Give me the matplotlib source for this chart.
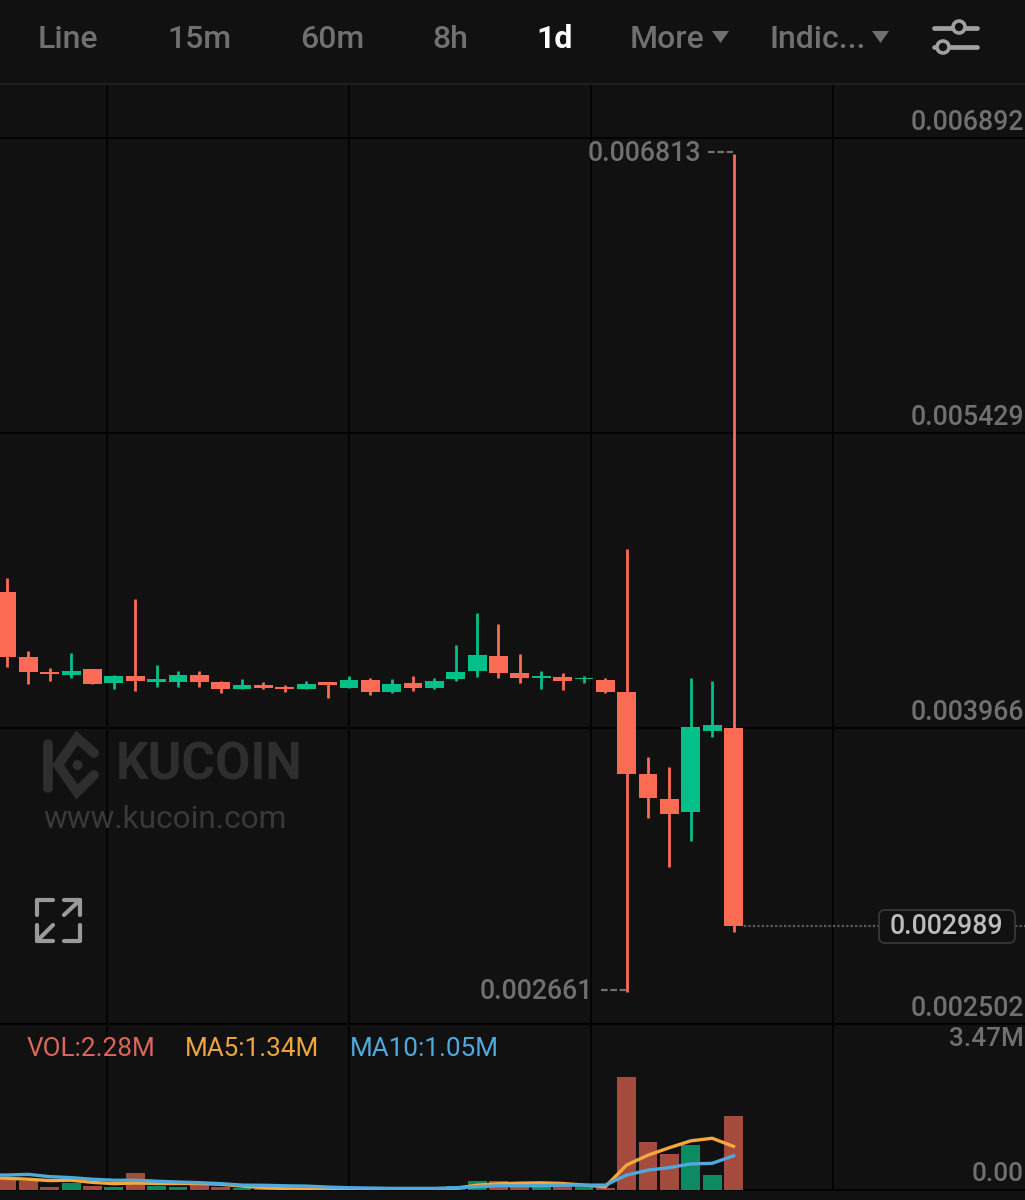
import matplotlib
matplotlib.use("Agg")
import matplotlib.pyplot as plt
from matplotlib.patches import FancyBboxPatch, Polygon, Circle

plt.rcParams["font.family"] = ["Roboto", "DejaVu Sans"]

# prices in millionths
opens = [4644, 4318, 4248, 4233, 4263, 4189, 4228, 4194, 4194, 4233, 4194, 4164,
         4179, 4174, 4164, 4194, 4169, 4204, 4149, 4189, 4169, 4209, 4253, 4327,
         4243, 4214, 4223, 4209, 4204, 4149, 3743, 3619, 3550, 3956, 3966]
closes = [4322, 4248, 4238, 4253, 4184, 4228, 4199, 4209, 4233, 4194, 4164, 4179,
          4169, 4164, 4184, 4179, 4204, 4149, 4184, 4169, 4199, 4248, 4332, 4243,
          4218, 4228, 4199, 4218, 4149, 3743, 3624, 3540, 3971, 3981, 2989]
highs = [4714, 4352, 4268, 4342, 4263, 4233, 4610, 4283, 4253, 4253, 4199, 4209,
         4194, 4179, 4199, 4194, 4228, 4214, 4209, 4228, 4214, 4382, 4540, 4486,
         4337, 4253, 4243, 4228, 4214, 4857, 3827, 3773, 4218, 4199, 6813]
lows = [4273, 4184, 4199, 4214, 4184, 4164, 4154, 4174, 4174, 4174, 4144, 4164,
        4164, 4149, 4164, 4119, 4169, 4134, 4144, 4154, 4164, 4199, 4223, 4214,
        4189, 4164, 4159, 4189, 4144, 2661, 3525, 3278, 3407, 3926, 2956]

# volume in millions
volumes = [0.31, 0.28, 0.10, 0.225, 0.12, 0.08, 0.51, 0.13, 0.09, 0.175, 0.09, 0.07,
           0.03, 0.03, 0.03, 0.03, 0.04, 0.03, 0.03, 0.03, 0.05, 0.13, 0.29, 0.29,
           0.22, 0.22, 0.20, 0.10, 0.07, 3.47, 1.47, 1.10, 1.37, 0.45, 2.28]
# first entry of each MA is the candle just off the left edge
ma5 = [0.37, 0.36, 0.33, 0.29, 0.30, 0.235, 0.195, 0.215, 0.20, 0.20, 0.20, 0.175, 0.12,
       0.07, 0.04, 0.03, 0.03, 0.03, 0.03, 0.03, 0.03, 0.03, 0.05, 0.15, 0.19,
       0.21, 0.22, 0.20, 0.15, 0.10, 0.77, 1.07, 1.30, 1.51, 1.59, 1.34]
ma10 = [0.46, 0.46, 0.48, 0.41, 0.38, 0.33, 0.30, 0.30, 0.27, 0.245, 0.225, 0.195, 0.15,
        0.145, 0.13, 0.12, 0.09, 0.07, 0.06, 0.05, 0.05, 0.05, 0.07, 0.10, 0.13,
        0.13, 0.13, 0.15, 0.15, 0.15, 0.46, 0.61, 0.69, 0.80, 0.82, 1.05]

price_ticks = [6892, 5429, 3966, 2502]
grid_x = [4.68, 16.0, 27.33, 38.65]
tabs = ["Line", "15m", "60m", "8h", "1d"]
tab_x = [68, 199, 332, 450, 555]

BG = "#111111"
RED = "#FC6B54"
GREEN = "#02C087"
GREY = "#707070"

fig = plt.figure(figsize=(10.25, 12), dpi=100, facecolor=BG)
ax = fig.add_axes([0, 176 / 1200, 1, 939 / 1200], facecolor=BG)
vol = fig.add_axes([0, 10 / 1200, 1, 166 / 1200], facecolor=BG, sharex=ax)

n = list(range(len(opens)))
colors = [GREEN if c >= o else RED for o, c in zip(opens, closes)]
bottoms = [min(o, c) for o, c in zip(opens, closes)]
heights = [abs(o - c) for o, c in zip(opens, closes)]

ax.vlines(n, lows, highs, colors=colors, linewidth=2, zorder=3)
ax.bar(n, heights, 0.88, bottom=bottoms, color=colors, linewidth=0, zorder=4)
ax.set_xlim(-0.328, 47.64)
ax.set_ylim(2502, 7154)
ax.set_yticks(price_ticks)
ax.set_xticks(grid_x)
ax.grid(True, color="black", linewidth=1.1)
ax.set_axisbelow(True)
ax.tick_params(length=0, labelleft=False, labelbottom=False)
for s in ax.spines.values():
    s.set_visible(False)

for p in price_ticks:
    ax.annotate(f"{p / 1e6:.6f}", xy=(1, p), xycoords=ax.get_yaxis_transform(), xytext=(-0.5, 11.4),
                textcoords="offset points", ha="right", va="center", color=GREY, fontsize=19.3,
                fontweight="medium", annotation_clip=False, zorder=6)

# high and low of the visible range
ax.annotate(f"{max(highs) / 1e6:.6f}", xy=(34, max(highs)), xytext=(-23.5, 0), textcoords="offset points",
            ha="right", va="center", color=GREY, fontsize=19.3, fontweight="medium")
ax.annotate(f"{min(lows) / 1e6:.6f}", xy=(29, min(lows)), xytext=(-24.5, 0.5), textcoords="offset points",
            ha="right", va="center", color=GREY, fontsize=19.3, fontweight="medium")

# last price
ax.plot([34.5, 47.64], [closes[-1], closes[-1]], color="#5A5A5A", linewidth=1.6, linestyle=(0, (1, 1)), zorder=2)

vol_colors = ["#0D8A62" if c == GREEN else "#A44B3D" for c in colors]
vol.bar(n, volumes, 0.88, color=vol_colors, linewidth=0, zorder=3)
vol.plot([-1] + n, ma5, color="#F5A83C", linewidth=2.4, zorder=4)
vol.plot([-1] + n, ma10, color="#4FA9DD", linewidth=2.4, zorder=5)
vol.set_ylim(0, 5.1)
vol.set_xticks(grid_x)
vol.grid(True, axis="x", color="black", linewidth=1.1)
vol.set_axisbelow(True)
vol.tick_params(length=0, labelleft=False, labelbottom=False)
for s in vol.spines.values():
    s.set_visible(False)
vol.spines["bottom"].set_visible(True)
vol.spines["bottom"].set_color("black")
vol.spines["bottom"].set_linewidth(1.1)
vol.spines["top"].set_visible(True)
vol.spines["top"].set_color("black")
vol.spines["top"].set_linewidth(1.1)

# screen furniture, in pixels
ui = fig.add_axes([0, 0, 1, 1], facecolor="none", zorder=10)
ui.set_xlim(0, 1025)
ui.set_ylim(1200, 0)
ui.axis("off")

ui.plot([0, 1025], [84, 84], color="#222222", linewidth=1.2)
for name, x in zip(tabs, tab_x):
    active = name == "1d"
    ui.text(x, 39.5, name, ha="center", va="center", fontsize=23, color="white" if active else GREY,
            fontweight="bold" if active else "medium")
ui.text(630, 39.5, "More", ha="left", va="center", fontsize=23, color=GREY, fontweight="medium")
ui.text(769, 39.5, "Indic...", ha="left", va="center", fontsize=23, color=GREY, fontweight="medium")
ui.add_patch(Polygon([(712, 31), (729, 31), (720.5, 43)], closed=True, color=GREY, linewidth=0))
ui.add_patch(Polygon([(872, 31), (889, 31), (880.5, 43)], closed=True, color=GREY, linewidth=0))

# dashes leading to the high and low labels
ui.plot([708, 733], [152, 152], color=GREY, linewidth=1.6, linestyle=(0, (3, 1.2)))
ui.plot([601, 627], [990, 990], color=GREY, linewidth=1.6, linestyle=(0, (3, 1.2)))

ui.plot([934, 977], [28, 28], color="#A0A0A0", linewidth=3.4, solid_capstyle="round")
ui.plot([934, 977], [47, 47], color="#A0A0A0", linewidth=3.4, solid_capstyle="round")
ui.add_patch(Circle((959, 27), 6, facecolor=BG, edgecolor="#A0A0A0", linewidth=2.6, zorder=3))
ui.add_patch(Circle((943, 47), 6, facecolor=BG, edgecolor="#A0A0A0", linewidth=2.6, zorder=3))

# watermark
WM = "#2E2E2E"
ui.plot([47.5, 47.5], [744, 788], color=WM, linewidth=7, solid_capstyle="round")
ui.plot([94, 77, 58, 77, 94], [753, 738, 765, 792, 775], color=WM, linewidth=7,
        solid_capstyle="round", solid_joinstyle="miter")
ui.add_patch(Circle((77.5, 765), 5, color=WM, linewidth=0))
ui.text(116, 766, "KUCOIN", ha="left", va="center", fontsize=37, fontweight="bold", color=WM)
ui.text(43, 819, "www.kucoin.com", ha="left", va="center", fontsize=22.8, color="#393939")

# expand icon
IC = "#9A9A9A"
icon_paths = [
    ([37, 37, 53], [915, 900, 900]),
    ([64, 80, 80], [900, 900, 915]),
    ([64, 80], [915, 900]),
    ([37, 37, 53], [925, 941, 941]),
    ([53, 37], [925, 941]),
    ([64, 80, 80], [941, 941, 925]),
]
for xs, ys in icon_paths:
    ui.plot(xs, ys, color=IC, linewidth=3, solid_capstyle="round", solid_joinstyle="round")

# last price tag
ui.add_patch(FancyBboxPatch((884, 915), 126, 23, boxstyle="round,pad=5,rounding_size=6",
                            facecolor=BG, edgecolor="#3A3A3A", linewidth=1.2, zorder=5))
ui.text(946.5, 926.5, f"{closes[-1] / 1e6:.6f}", ha="center", va="center", fontsize=19.3,
        color="#BDBDBD", fontweight="medium", zorder=6)

ui.text(27, 1048.5, f"VOL:{volumes[-1]:.2f}M", ha="left", va="center", fontsize=18.8, color="#D9675A")
ui.text(185, 1048.5, f"MA5:{ma5[-1]:.2f}M", ha="left", va="center", fontsize=18.8, color="#EDA53F")
ui.text(350, 1048.5, f"MA10:{ma10[-1]:.2f}M", ha="left", va="center", fontsize=18.8, color="#4FA9DD")
ui.text(1024, 1039.5, f"{max(volumes):.2f}M", ha="right", va="center", fontsize=18.8, color=GREY, fontweight="medium")
ui.text(1024, 1174, "0.00", ha="right", va="center", fontsize=18.8, color=GREY, fontweight="medium")

fig.savefig("out.png", dpi=100, facecolor=BG)
